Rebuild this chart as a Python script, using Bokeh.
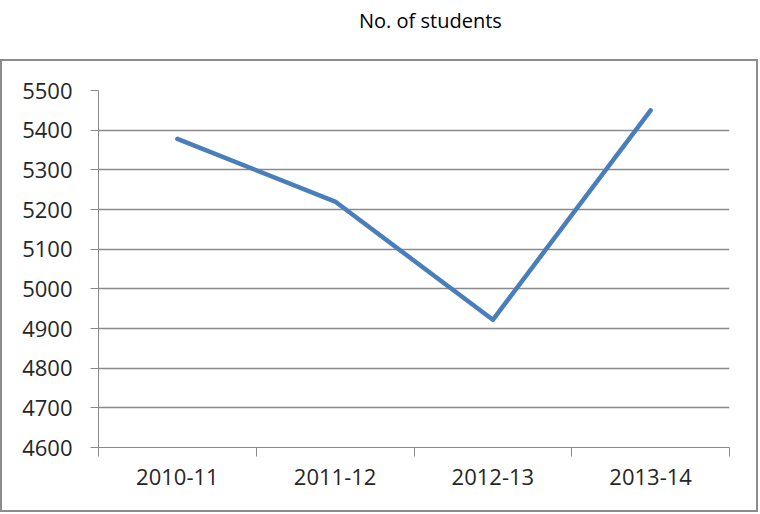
from bokeh.plotting import figure
from bokeh.models import Range1d, FixedTicker, Div, SingleIntervalTicker
from bokeh.layouts import column
from bokeh.embed import file_html
from bokeh.resources import INLINE

title_text = "No. of students"
categories = ["2010-11", "2011-12", "2012-13", "2013-14"]
students = [5378, 5220, 4922, 5450]
y_min, y_max, y_step = 4600, 5500, 100

xs = [i + 0.5 for i in range(len(categories))]

FONT = "Open Sans"
GRID = "#8a8a8a"

title = Div(text=title_text, width=758, height=59,
            styles={"font-family": FONT, "font-size": "20px", "color": "#000000",
                    "padding-left": "359px", "padding-top": "7px", "margin": "0",
                    "line-height": "1.36", "box-sizing": "border-box"})

p = figure(width=758, height=453, output_backend="svg", toolbar_location=None,
           x_range=Range1d(0, len(categories)), y_range=Range1d(y_min, y_max),
           min_border_left=96, min_border_right=31, min_border_top=29, min_border_bottom=67,
           styles={"border": "2px solid #8c8c8c"})
p.outline_line_color = None
p.background_fill_color = "white"
p.border_fill_color = "white"

p.line(xs, students, line_color="#4a7ebb", line_width=4.5, line_cap="round", line_join="round")

# x axis
p.xaxis.ticker = FixedTicker(ticks=xs, minor_ticks=list(range(len(categories) + 1)))
p.xaxis.major_label_overrides = {x: c for x, c in zip(xs, categories)}
p.xaxis.major_tick_line_color = None
p.xaxis.major_tick_out = 0
p.xaxis.major_tick_in = 0
p.xaxis.minor_tick_out = 9
p.xaxis.minor_tick_in = 0
p.xaxis.minor_tick_line_color = GRID
p.xaxis.axis_line_color = GRID
p.xaxis.major_label_text_font = FONT
p.xaxis.major_label_text_font_size = "22px"
p.xaxis.major_label_text_color = "#262626"
p.xaxis.major_label_standoff = 12
p.xgrid.grid_line_color = None

# y axis
p.yaxis.ticker = SingleIntervalTicker(interval=y_step, num_minor_ticks=0)
p.yaxis.major_tick_out = 8
p.yaxis.major_tick_in = 0
p.yaxis.major_tick_line_color = GRID
p.yaxis.minor_tick_line_color = None
p.yaxis.axis_line_color = GRID
p.yaxis.major_label_text_font = FONT
p.yaxis.major_label_text_font_size = "22px"
p.yaxis.major_label_text_color = "#262626"
p.yaxis.major_label_standoff = 18
p.ygrid.grid_line_color = GRID
p.ygrid.grid_line_width = 1.3

layout = column(title, p, spacing=0)
open("out.html", "w").write(file_html(layout, INLINE))
